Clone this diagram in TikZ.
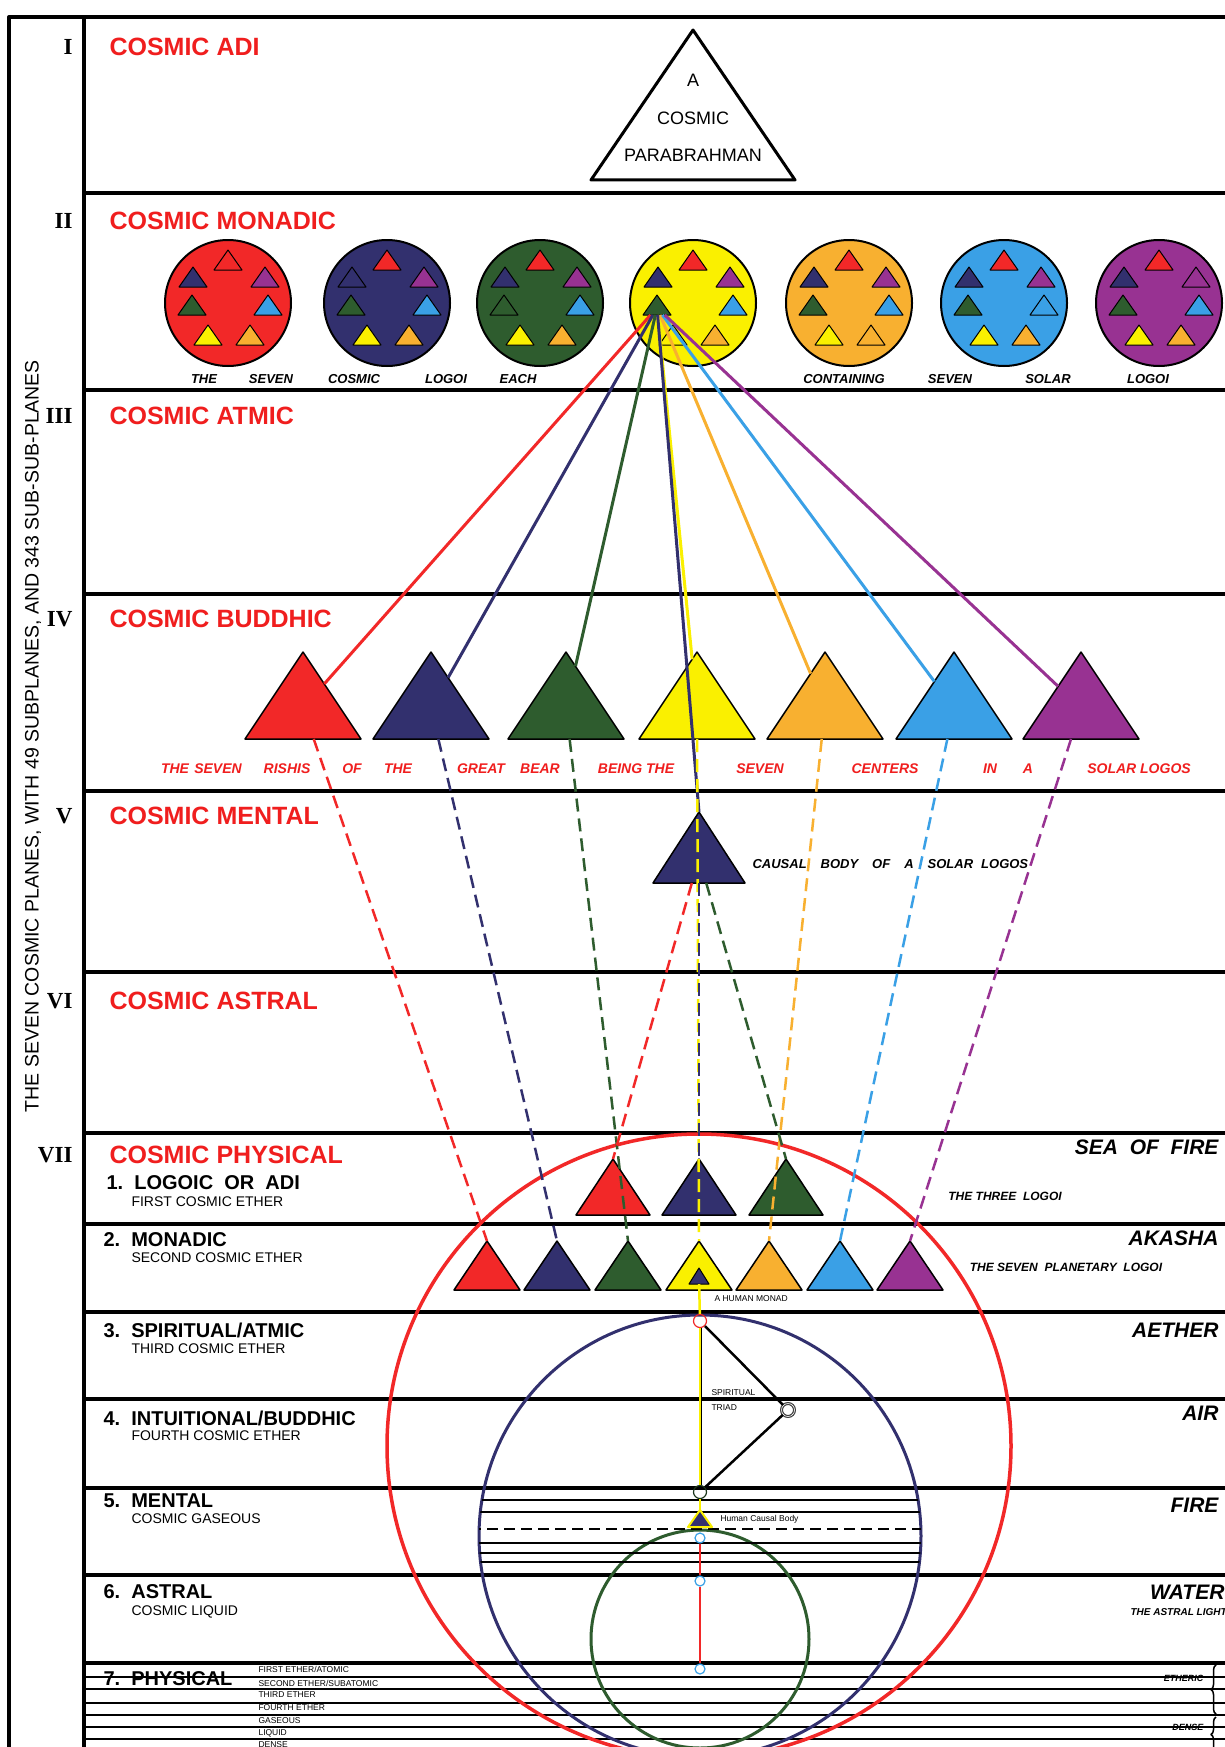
\documentclass[tikz,border=0pt]{standalone}
\usepackage{fontspec}
\setmainfont{Liberation Sans}
\newfontfamily\numeralfont{Liberation Serif}
\usetikzlibrary{shapes.geometric,decorations.pathreplacing}

\definecolor{planeRed}{RGB}{240,30,30}
\definecolor{rayRed}{RGB}{242,40,40}
\definecolor{rayNavy}{RGB}{50,48,110}
\definecolor{rayGreen}{RGB}{46,92,46}
\definecolor{rayYellow}{RGB}{250,240,0}
\definecolor{rayOrange}{RGB}{248,176,48}
\definecolor{rayBlue}{RGB}{58,160,230}
\definecolor{rayPurple}{RGB}{152,50,146}

\newcommand{\fsz}[1]{\fontsize{#1}{#1}\selectfont}

\tikzset{
  planetitle/.style={anchor=west, text=planeRed, font=\fsz{25}\bfseries},
  numeral/.style={anchor=east, font=\numeralfont\fsz{23}\bfseries},
  subplane/.style={anchor=west, font=\fsz{20}\bfseries},
  subnote/.style={anchor=west, font=\fsz{14}},
  element/.style={anchor=east, font=\fsz{21}\bfseries\itshape},
  wordlabel/.style={font=\fsz{13}\bfseries\itshape},
  redword/.style={font=\fsz{14}\bfseries\itshape, text=planeRed},
  tinylabel/.style={anchor=west, font=\fsz{8.5}},
  tri/.style={isosceles triangle, isosceles triangle stretches, shape border rotate=90,
    inner sep=0pt, outer sep=0pt, draw=black, line width=1.5pt, anchor=apex},
  minitri/.style={tri, minimum width=28pt, minimum height=20pt, line width=1pt},
  monaddisc/.style={circle, draw=black, line width=2pt, minimum size=126pt, inner sep=0pt},
  ray/.style={line width=3pt},
  dashray/.style={line width=2.5pt, dash pattern=on 13pt off 7pt},
  bandline/.style={line width=3.5pt},
  ringdot/.style={circle, line width=1.2pt, minimum size=13pt, inner sep=0pt},
}

\begin{document}
\begin{tikzpicture}[x=1pt, y=-1pt, line join=round]
% Chart sheet, one unit per pixel
\useasboundingbox (0,0) rectangle (1225,1747);
\fill[white] (0,0) rectangle (1225,1747);
% Outer frame and numeral column
\draw[line width=4pt] (9,1747) -- (9,17) -- (1225,17);
\draw[line width=4pt] (84,17) -- (84,1747);
% Plane and subplane boundaries
\foreach \y in {193,390,594,791,972,1133,1224,1312,1399,1488,1575,1663}
  \draw[bandline] (84,\y) -- (1225,\y);
% Sub-subplanes of the physical
\foreach \y in {1677,1689,1703,1715,1727,1739}
  \draw[line width=2.5pt] (84,\y) -- (1225,\y);

% Spheres of the cosmic physical
\draw[rayRed, line width=3.5pt] (699,1446) circle[radius=312pt];
\draw[rayNavy, line width=3pt] (700,1536) circle[radius=221pt];
\draw[rayGreen, line width=3pt] (700,1639) circle[radius=109pt];
% Mental subplanes inside the causal sphere
\begin{scope}
  \clip (700,1536) circle[radius=221pt];
  \foreach \y in {1500,1512,1543,1553,1562}
    \draw[line width=1.8pt] (470,\y) -- (930,\y);
  \draw[line width=2pt, dash pattern=on 11pt off 6pt] (470,1529) -- (930,1529);
\end{scope}

% Side title
\node[rotate=90, font=\fsz{19.5}] (sidetitle) at (33,736)
  {THE SEVEN COSMIC PLANES, WITH 49 SUBPLANES, AND 343 SUB-SUB-PLANES};

% Plane numerals and titles
\foreach \y/\rn/\pname [count=\i] in {47/I/ADI, 221/II/MONADIC, 416/III/ATMIC,
    619/IV/BUDDHIC, 816/V/MENTAL, 1001/VI/ASTRAL, 1155/VII/PHYSICAL} {
  \node[numeral] (num\i) at (76,\y) {\rn};
  \node[planetitle] (plane\i) at (106,\y) {COSMIC\hspace{7pt}\pname};
}

% I: the parabrahman triangle
\node[tri, fill=white, line width=3pt, minimum width=204pt, minimum height=150pt]
  (parabrahman) at (693,30) {};
\node[align=center, font=\fontsize{18}{37.5}\selectfont] (parabrahmantext) at (693,118)
  {A\\COSMIC\\PARABRAHMAN};

% II: the seven cosmic logoi, each with seven triangles
\foreach \cx/\col [count=\i] in {228/rayRed, 387/rayNavy, 540/rayGreen, 693/rayYellow,
    849/rayOrange, 1004/rayBlue, 1159/rayPurple} {
  \node[monaddisc, fill=\col] (c\i) at (\cx,303) {};
  \foreach \dx/\dy/\tc [count=\j] in {0/-43/rayRed, -35/-26/rayNavy, 37/-26/rayPurple,
      -36/2/rayGreen, 40/2/rayBlue, -20/32/rayYellow, 22/32/rayOrange}
    \node[minitri, fill=\tc] (c\i-\j) at ({\cx+\dx},{303+\dy-10}) {};
}
\foreach \x/\w [count=\i] in {204/THE, 271/SEVEN, 354/COSMIC, 446/LOGOI, 518/EACH,
    844/CONTAINING, 950/SEVEN, 1048/SOLAR, 1148/LOGOI}
  \node[wordlabel] (cw\i) at (\x,379) {\w};

% IV: the seven rishis
\foreach \x/\col [count=\i] in {303/rayRed, 431/rayNavy, 566/rayGreen, 697/rayYellow,
    825/rayOrange, 954/rayBlue, 1081/rayPurple}
  \node[tri, fill=\col, minimum width=116pt, minimum height=87pt] (b\i) at (\x,652) {};
\foreach \x/\w [count=\i] in {175/THE, 218/SEVEN, 287/RISHIS, 352/OF, 398/THE, 481/GREAT,
    540/BEAR, 636/BEING THE, 760/SEVEN, 885/CENTERS, 990/IN, 1028/A, 1139/SOLAR LOGOS}
  \node[redword] (bw\i) at (\x,769) {\w};

% V: causal body
\node[tri, fill=rayNavy, minimum width=92pt, minimum height=71pt] (cb) at (699,812) {};
\node[wordlabel, anchor=west] (cbtext) at (749,864)
  {CAUSAL\hspace{14pt}BODY\hspace{14pt}OF\hspace{14pt}A\hspace{14pt}SOLAR\hspace{8pt}LOGOS};

% VII: subplane names
\node[subplane] (sp1) at (103,1183) {1.\ \ LOGOIC\ \ OR\ \ ADI};
\node[subnote] (sn1) at (128,1202) {FIRST COSMIC ETHER};
\node[subplane] (sp2) at (100,1240) {2.\ \ MONADIC};
\node[subnote] (sn2) at (128,1258) {SECOND COSMIC ETHER};
\node[subplane] (sp3) at (100,1330) {3.\ \ SPIRITUAL/ATMIC};
\node[subnote] (sn3) at (128,1349) {THIRD COSMIC ETHER};
\node[subplane] (sp4) at (100,1418) {4.\ \ INTUITIONAL/BUDDHIC};
\node[subnote] (sn4) at (128,1436) {FOURTH COSMIC ETHER};
\node[subplane] (sp5) at (100,1501) {5.\ \ MENTAL};
\node[subnote] (sn5) at (128,1519) {COSMIC GASEOUS};
\node[subplane] (sp6) at (100,1592) {6.\ \ ASTRAL};
\node[subnote] (sn6) at (128,1612) {COSMIC LIQUID};
\node[subplane] (sp7) at (100,1679) {7.\ \ PHYSICAL};
\foreach \y/\w [count=\i] in {1669/{FIRST ETHER/ATOMIC}, 1683/{SECOND ETHER/SUBATOMIC},
    1695/{THIRD ETHER}, 1708/{FOURTH ETHER}, 1721/{GASEOUS}, 1733/{LIQUID}, 1745/{DENSE}}
  \node[tinylabel] (pp\i) at (255,\y) {\w};

% VII: elements on the right
\node[element] (el1) at (1222,1147) {SEA\ \ OF\ \ FIRE};
\node[element] (el2) at (1222,1238) {AKASHA};
\node[element] (el3) at (1222,1330) {AETHER};
\node[element] (el4) at (1222,1413) {AIR};
\node[element] (el5) at (1222,1505) {FIRE};
\node[element] (el6) at (1228,1592) {WATER};
\node[font=\fsz{12}\bfseries\itshape] (threelogoi) at (1005,1196) {THE\ THREE\ \ LOGOI};
\node[font=\fsz{12}\bfseries\itshape] (planlogoi) at (1066,1267) {THE\ SEVEN\ \ PLANETARY\ \ LOGOI};
\node[anchor=west, font=\fsz{10}\bfseries\itshape] (astrallight) at (1127,1612) {THE ASTRAL LIGHT};
\node[anchor=east, font=\fsz{9}\bfseries\itshape] (etheric) at (1207,1678) {ETHERIC};
\node[anchor=east, font=\fsz{9}\bfseries\itshape] (dense) at (1207,1727) {DENSE};
\draw[line width=1.5pt, decorate, decoration={brace, amplitude=5pt}] (1216,1714) -- (1216,1665);
\draw[line width=1.5pt, decorate, decoration={brace, amplitude=5pt}] (1216,1752) -- (1216,1717);

% VII.1: the three logoi
\foreach \x/\col [count=\i] in {613/rayRed, 699/rayNavy, 786/rayGreen}
  \node[tri, fill=\col, minimum width=74pt, minimum height=56pt] (l\i) at (\x,1159) {};
% VII.2: the seven planetary logoi
\foreach \x/\col [count=\i] in {487/rayRed, 557/rayNavy, 628/rayGreen, 699/rayYellow,
    769/rayOrange, 840/rayBlue, 910/rayPurple}
  \node[tri, fill=\col, minimum width=66pt, minimum height=49pt] (m\i) at (\x,1241) {};

% Human monad, triad and causal body
\node[tri, fill=rayNavy, line width=1pt, minimum width=20pt, minimum height=16pt] (hm) at (699,1268) {};
\node[tinylabel] (hmtext) at (711,1299) {A HUMAN MONAD};
\node[ringdot, draw=rayRed] (tT) at (700,1321) {};
\node[ringdot, draw=black!75, double=white] (tR) at (788,1410) {};
\node[ringdot, draw=rayGreen!60!black] (tB) at (700,1492) {};
\node[tinylabel, align=left, font=\fontsize{8.5}{15}\selectfont] (triadtext) at (708,1400) {SPIRITUAL\\TRIAD};
\node[tri, fill=rayNavy, draw=rayYellow, line width=2pt, minimum width=24pt, minimum height=17pt] (hc) at (700,1510) {};
\node[tinylabel] (hctext) at (717,1519) {Human Causal Body};
\node[ringdot, draw=rayBlue, minimum size=10pt] (p1) at (700,1538) {};
\node[ringdot, draw=rayBlue, minimum size=10pt] (p2) at (700,1581) {};
\node[ringdot, draw=rayBlue, minimum size=10pt] (p3) at (700,1669) {};
\draw[line width=2.5pt] (tT) -- (tR) -- (tB);
\draw[line width=3pt] (tT) -- (tB);
\draw[rayYellow, line width=1.6pt] (tT) -- (tB);
\draw[rayYellow, line width=2.5pt] (hm) -- (tT);
\draw[rayYellow, line width=2.5pt] (tB) -- (hc);
\draw[rayRed, line width=2pt] (p1) -- (p2) -- (p3);

% Rays from the green logos of the yellow sphere
\foreach \i/\col in {1/rayRed, 2/rayNavy, 3/rayGreen, 4/rayYellow, 5/rayOrange, 6/rayBlue, 7/rayPurple}
  \draw[ray, \col] (c4-4) -- (b\i);
\draw[ray, rayNavy] (c4-4) -- (cb.apex);
% Dashed descent to the planetary logoi
\foreach \i/\col in {1/rayRed, 2/rayNavy, 3/rayGreen, 4/rayYellow, 5/rayOrange, 6/rayBlue, 7/rayPurple}
  \draw[dashray, \col] (b\i) -- (m\i.apex);
\draw[dashray, rayRed] (cb) -- (l1.apex);
\draw[dashray, rayNavy] (cb) -- (l2.apex);
\draw[dashray, rayGreen] (cb) -- (l3.apex);
\end{tikzpicture}
\end{document}
